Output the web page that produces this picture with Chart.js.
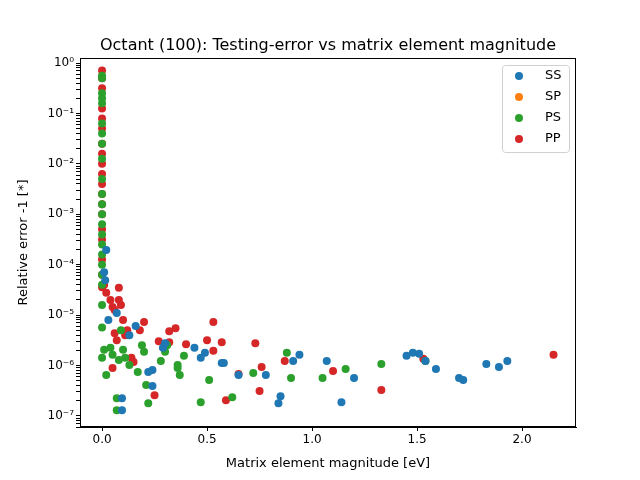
<!DOCTYPE html>
<html>
<head>
<meta charset="utf-8">
<script src="https://cdn.jsdelivr.net/npm/chart.js@4/dist/chart.umd.min.js"></script>
<style>
  body { margin: 0; background: #fff; }
  #wrap { width: 640px; height: 480px; }
</style>
</head>
<body>
<div id="wrap"><canvas id="scatterChart"></canvas></div>
<script>
// Values; y given as log10(relative error)
const ssX = [0.44, 0.47, 0.49, 0.57, 0.58, 0.65, 0.78, 0.84, 0.85, 0.91, 0.94, 1.07, 1.14, 1.20, 1.45, 1.48, 1.51, 1.54, 1.59, 1.70, 1.72, 1.83, 1.89, 1.93, 0.29, 0.30, 0.24, 0.24, 0.22, 0.16, 0.095, 0.095, 0.01, 0.015, 0.02, 0.03, 0.07, 0.13];
const ssLogY = [-5.65, -5.85, -5.75, -5.95, -5.95, -6.19, -6.19, -6.75, -6.61, -5.91, -5.79, -5.91, -6.73, -6.25, -5.81, -5.75, -5.77, -5.91, -6.07, -6.25, -6.29, -5.97, -6.03, -5.91, -5.65, -5.56, -6.09, -6.41, -6.13, -5.22, -6.89, -6.65, -4.15, -4.31, -3.71, -5.1, -4.96, -5.4];

const spX = [];
const spLogY = [];

const psX = [0, 0, 0, 0, 0, 0, 0, 0, 0, 0, 0, 0, 0, 0, 0, 0, 0, 0, 0, 0, 0, 0, 0,
  0.02, 0.01, 0.04, 0.05, 0.07, 0.07, 0.08, 0.09, 0.10, 0.11, 0.13, 0.17, 0.19, 0.20, 0.21, 0.22, 0.28, 0.30, 0.31, 0.36, 0.36, 0.37, 0.39, 0.47, 0.51, 0.62, 0.72, 0.88, 0.90, 1.05, 1.16, 1.33, 1.54];
const psLogY = [-0.25, -0.3, -0.6, -0.7, -0.8, -1.2, -1.4, -1.6, -1.9, -2.3, -2.6, -2.8, -3.0, -3.2, -3.4, -3.6, -3.8, -4.0, -4.2, -4.4, -4.8, -5.25, -5.85,
  -6.19, -5.69, -5.65, -5.79, -6.89, -6.65, -5.89, -5.3, -5.69, -5.85, -5.99, -6.13, -5.6, -5.73, -6.39, -6.75, -5.91, -5.73, -5.6, -5.99, -6.05, -6.19, -5.81, -6.73, -6.29, -6.63, -6.15, -5.75, -6.25, -6.25, -6.07, -5.97, -5.91];

const ppX = [0, 0, 0, 0, 0, 0, 0, 0, 0, 0, 0, 0, 0, 0, 0, 0, 0, 0, 0,
  0.01, 0.02, 0.04, 0.05, 0.06, 0.08, 0.08, 0.09, 0.10, 0.06, 0.05, 0.07, 0.11, 0.12, 0.14, 0.15, 0.18, 0.20, 0.25, 0.27, 0.32, 0.35, 0.32, 0.40, 0.50, 0.53, 0.53, 0.57, 0.59, 0.65, 0.73, 0.76, 0.75, 0.87, 1.10, 1.33, 1.53, 2.15];
const ppLogY = [-0.15, -0.3, -0.5, -0.9, -1.1, -1.3, -1.6, -1.8, -2.0, -2.2, -2.4, -2.6, -2.8, -3.0, -3.3, -3.5, -3.9, -4.2, -4.45,
  -4.4, -4.56, -4.7, -4.84, -4.9, -4.7, -4.46, -4.8, -5.1, -5.36, -6.05, -5.5, -5.4, -5.3, -5.85, -5.93, -5.3, -5.14, -6.59, -5.52, -5.32, -5.26, -5.54, -5.58, -5.5, -5.14, -5.71, -5.54, -6.69, -6.17, -5.56, -6.03, -6.51, -5.91, -6.11, -6.49, -5.87, -5.79];

const seriesNames = ['SS', 'SP', 'PS', 'PP'];
const seriesColors = ['#1f77b4', '#ff7f0e', '#2ca02c', '#d62728'];
const xTicks = [0.0, 0.5, 1.0, 1.5, 2.0];
const yDecades = [-8, -7, -6, -5, -4, -3, -2, -1, 0];
const supers = { '-': '⁻', '0': '⁰', '1': '¹', '2': '²', '3': '³', '4': '⁴', '5': '⁵', '6': '⁶', '7': '⁷', '8': '⁸', '9': '⁹' };

function toPoints(xs, logs) {
  return xs.map((x, i) => ({ x: x, y: Math.pow(10, logs[i]) }));
}

const allX = [ssX, spX, psX, ppX];
const allY = [ssLogY, spLogY, psLogY, ppLogY];

const datasets = seriesNames.map((name, i) => ({
  label: name,
  data: toPoints(allX[i], allY[i]),
  backgroundColor: seriesColors[i],
  borderWidth: 0,
  pointRadius: 4,
  pointHoverRadius: 4
}));

// title, axis labels, frame and in-axes legend, drawn matplotlib-style
const decorPlugin = {
  id: 'decor',
  afterDraw(chart) {
    const c = chart.ctx;
    const a = chart.chartArea;
    c.save();
    c.strokeStyle = '#000';
    c.lineWidth = 1;
    c.strokeRect(Math.round(a.left) + 0.5, Math.round(a.top) + 0.5, Math.round(a.right - a.left) - 1, Math.round(a.bottom - a.top) - 1);

    c.fillStyle = '#000';
    c.font = '16px "DejaVu Sans"';
    c.textAlign = 'center';
    c.textBaseline = 'alphabetic';
    c.fillText('Octant (100): Testing-error vs matrix element magnitude', (a.left + a.right) / 2, 50);

    c.font = '13px "DejaVu Sans"';
    c.fillText('Matrix element magnitude [eV]', (a.left + a.right) / 2, 467);
    c.save();
    c.translate(27, (a.top + a.bottom) / 2);
    c.rotate(-Math.PI / 2);
    c.fillText('Relative error -1 [*]', 0, 0);
    c.restore();

    const lx = 502, ly = 65, lw = 67, lh = 87;
    c.strokeStyle = '#d0d0d0';
    c.fillStyle = 'rgba(255,255,255,0.8)';
    c.beginPath();
    c.roundRect(lx + 0.5, ly + 0.5, lw, lh, 3);
    c.fill();
    c.stroke();
    c.font = '13px "DejaVu Sans"';
    c.textAlign = 'left';
    c.textBaseline = 'middle';
    seriesNames.forEach((name, i) => {
      const yy = ly + 11 + i * 21;
      c.fillStyle = seriesColors[i];
      c.beginPath();
      c.arc(lx + 17, yy, 4, 0, Math.PI * 2);
      c.fill();
      c.fillStyle = '#000';
      c.fillText(name, lx + 43, yy);
    });
    c.restore();
  }
};

new Chart(document.getElementById('scatterChart'), {
  type: 'scatter',
  data: { datasets: datasets },
  plugins: [decorPlugin],
  options: {
    responsive: true,
    maintainAspectRatio: false,
    animation: false,
    layout: { padding: { top: 58, right: 64, left: 0, bottom: 0 } },
    plugins: { legend: { display: false }, tooltip: { enabled: false } },
    scales: {
      x: {
        type: 'linear',
        min: -0.105,
        max: 2.257,
        afterFit(s) { s.height = 53; },
        afterBuildTicks(s) { s.ticks = xTicks.map(v => ({ value: v })); },
        grid: { display: true, drawOnChartArea: false, tickLength: 4, color: '#000' },
        border: { display: true, color: '#000' },
        ticks: {
          color: '#000',
          font: { family: 'DejaVu Sans', size: 12 },
          padding: 2,
          maxRotation: 0,
          callback: v => v.toFixed(1)
        }
      },
      y: {
        type: 'logarithmic',
        min: Math.pow(10, -7.22),
        max: Math.pow(10, 0.1),
        afterFit(s) { s.width = 80; },
        afterBuildTicks(s) {
          const t = [];
          yDecades.forEach(d => {
            for (let m = 1; m <= 9; m++) {
              const v = m * Math.pow(10, d);
              if (v >= s.min && v <= s.max) t.push({ value: v, major: m === 1 });
            }
          });
          s.ticks = t;
        },
        grid: { display: true, drawOnChartArea: false, tickLength: 4, color: '#000' },
        border: { display: true, color: '#000' },
        ticks: {
          color: '#000',
          font: { family: 'DejaVu Sans', size: 12 },
          padding: 2,
          autoSkip: false,
          callback: v => {
            const e = Math.log10(v);
            if (Math.abs(e - Math.round(e)) > 1e-6) return '';
            return '10' + String(Math.round(e)).split('').map(ch => supers[ch]).join('');
          }
        }
      }
    }
  }
});
</script>
</body>
</html>
